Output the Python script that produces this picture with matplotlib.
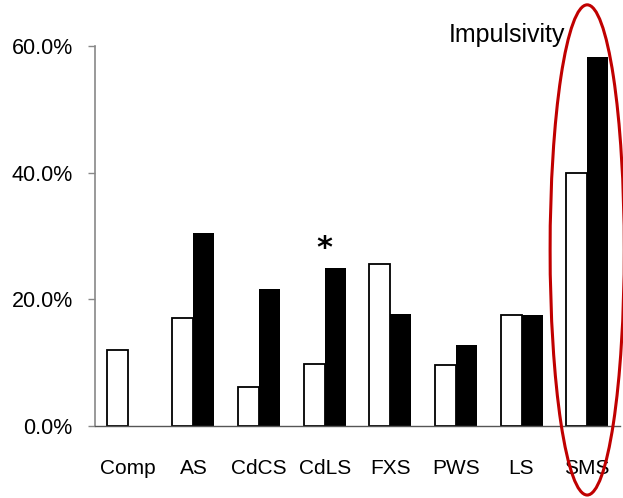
import matplotlib
matplotlib.use("Agg")
import matplotlib.pyplot as plt
from matplotlib.patches import Ellipse
from matplotlib.ticker import FuncFormatter
import numpy as np

plt.rcParams['font.family'] = ['Liberation Sans', 'DejaVu Sans']

categories = ["Comp", "AS", "CdCS", "CdLS", "FXS", "PWS", "LS", "SMS"]
white_vals = [12.0, 17.0, 6.1, 9.8, 25.6, 9.7, 17.6, 39.9]
black_vals = [0.0, 30.5, 21.7, 24.9, 17.7, 12.8, 17.6, 58.3]
title = "Impulsivity"
yticks = [0, 20, 40, 60]

fig = plt.figure(figsize=(6.23, 4.98), dpi=100)
ax = fig.add_axes([95/623, 72/498, 525/623, 380/498])

x = np.arange(len(categories))
w = 0.32
ax.bar(x - w/2, white_vals, width=w, color="white", edgecolor="black", linewidth=1.3, zorder=2)
ax.bar(x + w/2, black_vals, width=w, color="black", linewidth=0, zorder=2)

ax.set_xlim(-0.5, 7.5)
ax.set_ylim(0, 60)
ax.set_yticks(yticks)
ax.yaxis.set_major_formatter(FuncFormatter(lambda v, p: f"{v:.1f}%"))
ax.set_xticks(x)
ax.set_xticklabels(categories)
ax.tick_params(axis='x', length=0, pad=24, labelsize=15)
ax.tick_params(axis='y', length=5, width=1, color="#888888", pad=11, labelsize=15.5)

for s in ["top", "right"]:
    ax.spines[s].set_visible(False)
ax.spines["left"].set_color("#888888")
ax.spines["left"].set_linewidth(1.2)
ax.spines["bottom"].set_color("#555555")
ax.spines["bottom"].set_linewidth(1.0)

# asterisk above CdLS group
ci = categories.index("CdLS")
ax.text(ci, black_vals[ci] + 0.9, "*", ha="center", va="bottom",
        fontsize=22, fontweight="bold", family="DejaVu Sans")

# title
fig.text(507/623, 1 - 35/498, title, ha="center", va="center", fontsize=18)

# red ellipse around SMS
si = categories.index("SMS")
ell = Ellipse((si, 27.8), width=1.13, height=77.4, fill=False,
              edgecolor="#c00000", linewidth=2.2, clip_on=False, zorder=5)
ax.add_patch(ell)

fig.savefig("out.png", dpi=100)
